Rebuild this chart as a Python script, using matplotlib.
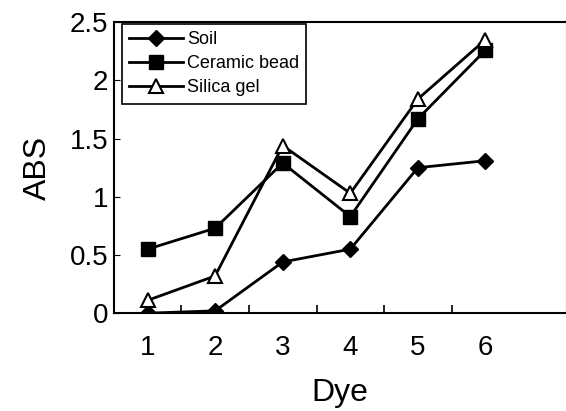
import matplotlib
matplotlib.use("Agg")
import matplotlib.pyplot as plt

# Values
dyes = [1, 2, 3, 4, 5, 6]
soil = [0.0, 0.02, 0.44, 0.55, 1.25, 1.31]
ceramic_bead = [0.55, 0.73, 1.29, 0.83, 1.67, 2.26]
silica_gel = [0.11, 0.32, 1.44, 1.03, 1.84, 2.35]

y_ticks = [0, 0.5, 1, 1.5, 2, 2.5]
y_tick_labels = ["0", "0.5", "1", "1.5", "2", "2.5"]

plt.rcParams["font.family"] = ["Liberation Sans", "DejaVu Sans"]

figure = plt.figure(figsize=(5.66, 4.11), dpi=100)
axis = figure.add_axes([0.201, 0.238, 0.80, 0.708])

line_style = dict(color="black", linewidth=2)
axis.plot(dyes, soil, marker="D", markersize=8, label="Soil", **line_style)
axis.plot(dyes, ceramic_bead, marker="s", markersize=10, label="Ceramic bead", **line_style)
axis.plot(dyes, silica_gel, marker="^", markersize=10, markerfacecolor="white",
          markeredgewidth=1.5, label="Silica gel", **line_style)

axis.set_xlim(0.5, 7.2)
axis.set_ylim(0, 2.5)
axis.set_xticks(dyes)
axis.set_xticks([1.5, 2.5, 3.5, 4.5, 5.5], minor=True)
axis.set_yticks(y_ticks)
axis.set_yticklabels(y_tick_labels)

axis.tick_params(axis="x", which="major", length=0, labelsize=20, pad=16)
axis.tick_params(axis="x", which="minor", direction="in", length=6, width=1.2)
axis.tick_params(axis="y", direction="in", length=4, labelsize=20, pad=4)

for spine in axis.spines.values():
    spine.set_linewidth(1.5)

axis.set_xlabel("Dye", fontsize=23, labelpad=12)
axis.set_ylabel("ABS", fontsize=23, labelpad=12)

legend = axis.legend(loc="upper left", bbox_to_anchor=(0.018, 0.995), fontsize=13,
                     fancybox=False, edgecolor="black", framealpha=1,
                     handlelength=3.0, borderpad=0.4, labelspacing=0.4,
                     handletextpad=0.2, borderaxespad=0)
legend.get_frame().set_linewidth(1.2)

figure.savefig("out.png", dpi=100)
